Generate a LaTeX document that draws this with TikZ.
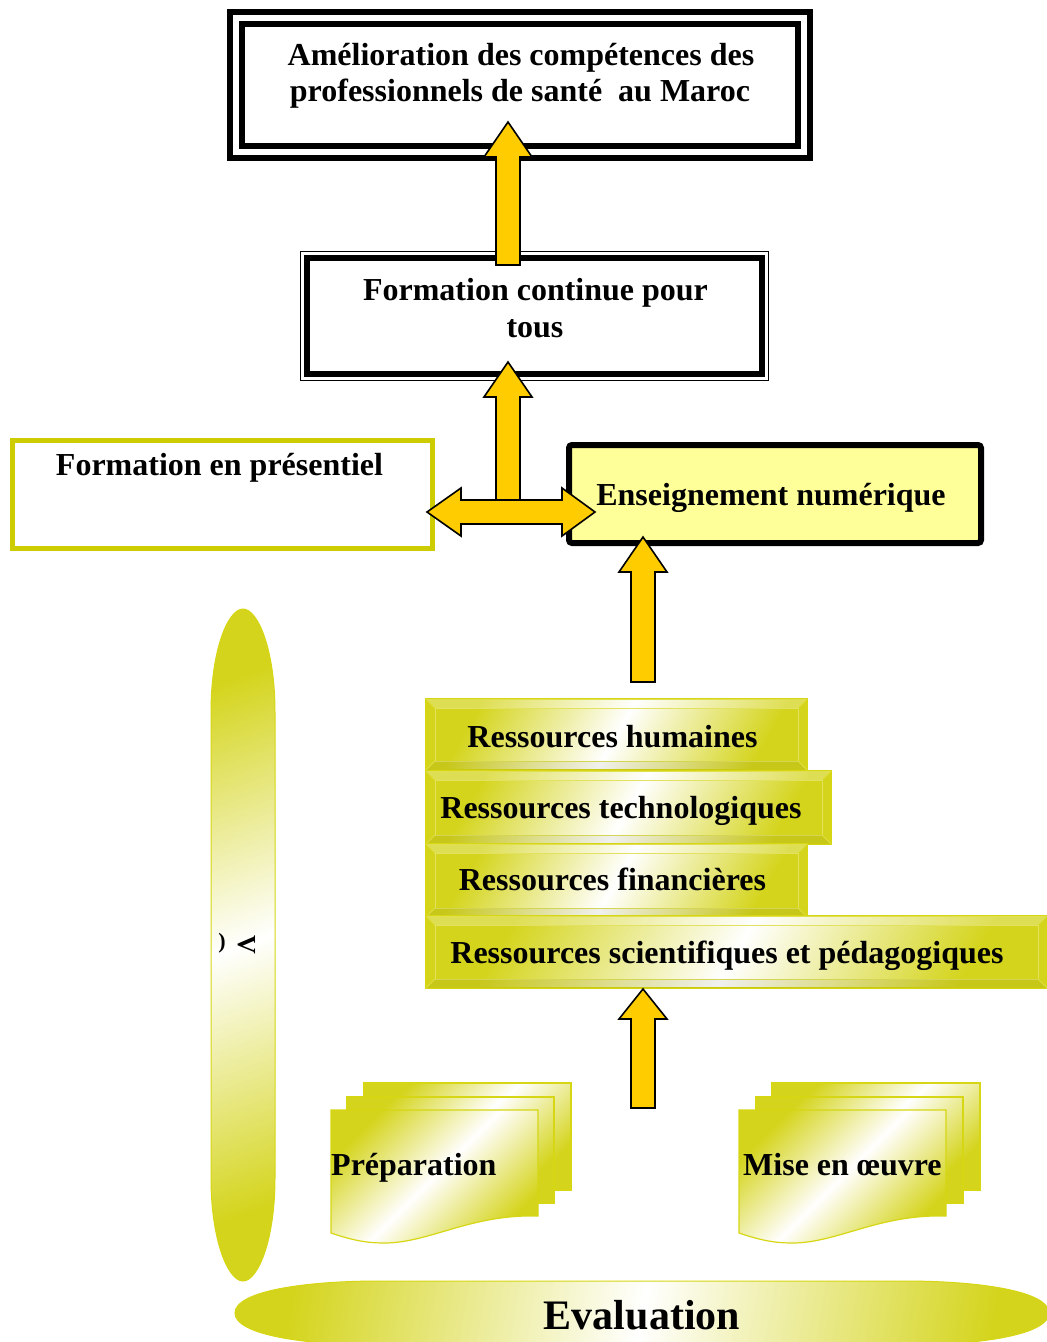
\documentclass[tikz,border=0pt]{standalone}
\usepackage{fontspec}
\setmainfont{Liberation Serif}
\usetikzlibrary{calc}

\definecolor{arrowY}{RGB}{255,204,0}
\definecolor{shadeY}{RGB}{212,212,28}
\definecolor{edgeY}{RGB}{214,214,20}
\definecolor{boxolive}{RGB}{204,204,0}
\definecolor{paleY}{RGB}{255,255,153}

% upward block arrow: #1 tip, #2 tail, #3 head length
\newcommand\yellowup[3]{%
  \draw[blk] let \p1=(#1), \p2=(#2) in
    (\x2-12pt,\y2) -- (\x2-12pt,\y1-#3) -- (\x2-24pt,\y1-#3) -- (\x2,\y1)
    -- (\x2+24pt,\y1-#3) -- (\x2+12pt,\y1-#3) -- (\x2+12pt,\y2) -- cycle;}

% bevel frame inside a bar node
\newcommand\bevelframe[1]{%
  \draw[edgeY!70!white, line width=1pt]
    ([shift={(9,9)}]#1.north west) rectangle ([shift={(-9,-9)}]#1.south east);
  \fill[white, opacity=0.25]
    (#1.north west) -- (#1.north east) -- ([shift={(-9,9)}]#1.north east)
    -- ([shift={(9,9)}]#1.north west) -- cycle;
  \fill[black, opacity=0.06]
    (#1.south west) -- (#1.south east) -- ([shift={(-9,-9)}]#1.south east)
    -- ([shift={(9,-9)}]#1.south west) -- cycle;
  \draw[edgeY!80!white, line width=0.8pt]
    (#1.north west) -- ([shift={(9,9)}]#1.north west)
    (#1.north east) -- ([shift={(-9,9)}]#1.north east)
    (#1.south west) -- ([shift={(9,-9)}]#1.south west)
    (#1.south east) -- ([shift={(-9,-9)}]#1.south east);}

\begin{document}
\begin{tikzpicture}[x=1pt,y=-1pt,
  txt/.style={font=\fontsize{32}{36}\selectfont\bfseries, inner sep=0pt, anchor=base},
  blk/.style={draw=black, line width=1.6pt, fill=arrowY, line join=miter},
  goldshade/.style={left color=shadeY, right color=shadeY, middle color=white, shading angle=#1},
  goldshade/.default=60,
  bar/.style={draw=edgeY, line width=1.2pt, outer sep=0pt, inner sep=0pt, goldshade=60},
  sheet/.style={draw=edgeY, line width=1.2pt, goldshade=45},
]
\useasboundingbox (0,0) rectangle (1047,1342);
\clip (0,0) rectangle (1047,1342);

% ---- goal box
\node[draw, double, line width=5.5pt, double distance=6.5pt,
      minimum width=568, minimum height=134, inner sep=0] (goal) at (520,85) {};
\node[txt] (goalA) at (521,65) {Amélioration des compétences des};
\node[txt] (goalB) at (520,101) {professionnels de santé\ \ au Maroc};

% ---- continuing education box
\node[draw, line width=6pt, outer sep=0pt, minimum width=455, minimum height=116, inner sep=0] (fc) at (534.5,316) {};
\draw[line width=1.8pt] ([shift={(-6.5,-6.5)}]fc.north west) rectangle ([shift={(6.5,6.5)}]fc.south east);
\node[txt] (fcA) at (535.5,300) {Formation continue pour};
\node[txt] (fcB) at (535,337) {tous};

% ---- face-to-face training
\node[draw=boxolive, fill=white, line width=5pt, minimum width=420, minimum height=108, inner sep=0] (pres) at (222,494) {};
\node[txt] (presT) at (219.5,475) {Formation en présentiel};

% ---- digital teaching
\node[draw=black, fill=paleY, line width=6pt, rounded corners=3pt,
      minimum width=412, minimum height=98, inner sep=0] (num) at (775,494) {};
\node[txt] (numT) at (771,505) {Enseignement numérique};

% ---- resources
\node[bar, minimum width=381, minimum height=71] (r1) at (616.5,734.5) {};
\bevelframe{r1}
\node[bar, minimum width=405, minimum height=73] (r2) at (628.5,807.5) {};
\bevelframe{r2}
\node[bar, minimum width=381, minimum height=73] (r3) at (616.5,880.5) {};
\bevelframe{r3}
\node[bar, minimum width=621, minimum height=72] (r4) at (736.5,952) {};
\bevelframe{r4}
\node[txt] (r1T) at (612.5,747) {Ressources humaines};
\node[txt] (r2T) at (621,818) {Ressources technologiques};
\node[txt] (r3T) at (612.5,890) {Ressources financières};
\node[txt] (r4T) at (727,963) {Ressources scientifiques et pédagogiques};

% ---- stacked documents
\draw[sheet] (364,1083) rectangle (571,1190);
\draw[sheet] (347,1097) rectangle (554,1203);
\draw[sheet] (331,1110) -- (538,1110) -- (538,1216)
  .. controls (470,1214) and (430,1243) .. (384,1243)
  .. controls (362,1243) and (346,1238) .. (331,1233) -- cycle;
\node[txt, anchor=base west] (prepT) at (331,1175) {Préparation};

\draw[sheet] (772,1083) rectangle (980,1190);
\draw[sheet] (756,1097) rectangle (963,1203);
\draw[sheet] (739,1110) -- (946,1110) -- (946,1216)
  .. controls (878,1214) and (838,1243) .. (792,1243)
  .. controls (770,1243) and (754,1238) .. (739,1233) -- cycle;
\node[txt, anchor=base west] (miseT) at (743,1175) {Mise en œuvre};

% ---- vertical rounded band
\path[draw=edgeY, line width=1pt, top color=shadeY, bottom color=shadeY, middle color=white, shading angle=20]
  (211,945) -- (211,712) .. controls (211,650) and (228,609) .. (243,609)
  .. controls (258,609) and (275,650) .. (275,712) -- (275,1178)
  .. controls (275,1240) and (258,1281) .. (243,1281)
  .. controls (228,1281) and (211,1240) .. (211,1178) -- cycle;
\node[font=\fontsize{26}{28}\selectfont\bfseries, rotate=-90, inner sep=0] (vV) at (247,945) {V};
\node[font=\fontsize{22}{24}\selectfont\bfseries, inner sep=0] (vM) at (222,943) {)};

% ---- evaluation band
\path[draw=edgeY, line width=1pt, goldshade=80]
  (235,1313) .. controls (235,1292) and (300,1281) .. (380,1281) -- (904,1281)
  .. controls (984,1281) and (1049,1292) .. (1049,1313)
  .. controls (1049,1334) and (984,1345) .. (904,1345) -- (380,1345)
  .. controls (300,1345) and (235,1334) .. (235,1313) -- cycle;
\node[txt, font=\fontsize{42}{46}\selectfont\bfseries] (evalT) at (642,1329) {Evaluation};

% ---- block arrows
\coordinate (a1tip) at (508,122);  \coordinate (a1tail) at (508,265);
\coordinate (a2tip) at (508,362);  \coordinate (a2tail) at (508,500);
\coordinate (a3tip) at (643,537);  \coordinate (a3tail) at (643,682);
\coordinate (a4tip) at (643,989);  \coordinate (a4tail) at (643,1108);
\coordinate (dl) at (427,512);     \coordinate (dr) at (595,512);

\yellowup{a1tip}{a1tail}{35pt}
\yellowup{a2tip}{a2tail}{35pt}
\draw[blk] let \p1=(dl), \p2=(dr) in
  (\x1,\y1) -- (\x1+34pt,\y1+24pt) -- (\x1+34pt,\y1+12pt) -- (\x2-33pt,\y1+12pt)
  -- (\x2-33pt,\y1+24pt) -- (\x2,\y1) -- (\x2-33pt,\y1-24pt) -- (\x2-33pt,\y1-12pt)
  -- (\x1+34pt,\y1-12pt) -- (\x1+34pt,\y1-24pt) -- cycle;
\yellowup{a3tip}{a3tail}{35pt}
\yellowup{a4tip}{a4tail}{30pt}
\end{tikzpicture}
\end{document}
